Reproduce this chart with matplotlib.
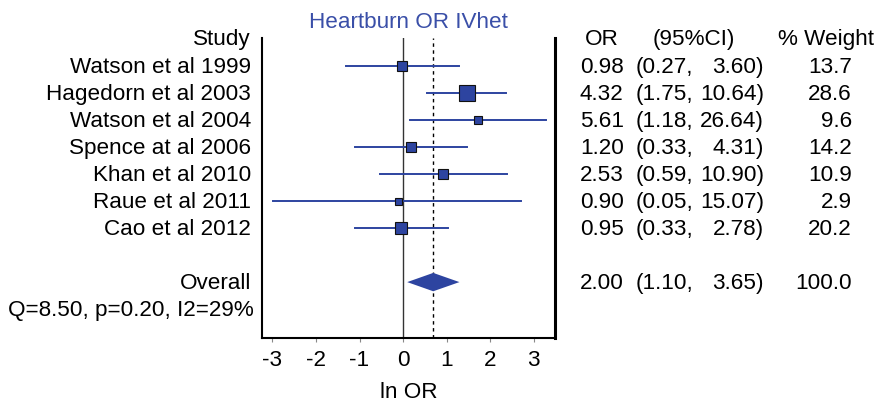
import numpy as np
import matplotlib.pyplot as plt
import matplotlib.transforms as mtransforms

plt.rcParams['font.family'] = ['Liberation Sans', 'DejaVu Sans']

studies = ['Watson et al 1999', 'Hagedorn et al 2003', 'Watson et al 2004',
           'Spence at al 2006', 'Khan et al 2010', 'Raue et al 2011', 'Cao et al 2012']
odds = [0.98, 4.32, 5.61, 1.20, 2.53, 0.90, 0.95]
ci_low = [0.27, 1.75, 1.18, 0.33, 0.59, 0.05, 0.33]
ci_high = [3.60, 10.64, 26.64, 4.31, 10.90, 15.07, 2.78]
weights = [13.7, 28.6, 9.6, 14.2, 10.9, 2.9, 20.2]

pooled_or = 2.00
pooled_low = 1.10
pooled_high = 3.65
pooled_weight = 100.0
q_text = 'Q=8.50, p=0.20, I2=29%'

BLUE = '#2D44A0'
FS = 16.2
W, H = 884, 406

fig = plt.figure(figsize=(W / 100, H / 100), dpi=100)
ax = fig.add_axes([262 / W, 1 - 339 / H, (555 - 262) / W, 300 / H])

rows = np.arange(1, len(studies) + 1)
overall_row = len(studies) + 2

# study CIs and squares
for r, o, lo, hi, w in zip(rows, odds, ci_low, ci_high, weights):
    ax.plot([np.log(lo), np.log(hi)], [r, r], color=BLUE, lw=1.4, zorder=2)
    ms = max(2.85 * np.sqrt(w), 7) * 0.72
    ax.plot(np.log(o), r, marker='s', ms=ms, color=BLUE, mec='#111111', mew=0.8, zorder=3)

# pooled diamond
lp, ll, lh = np.log(pooled_or), np.log(pooled_low), np.log(pooled_high)
ax.fill([ll, lp, lh, lp], [overall_row, overall_row - 0.34, overall_row, overall_row + 0.34],
        color=BLUE, lw=0, zorder=3)

ax.axvline(0, color='#333333', lw=1.0, zorder=1)
ax.axvline(lp, color='black', lw=1.0, ls=(0, (2.5, 2.5)), zorder=1)

ax.set_xlim(-3.24, 3.49)
ax.set_ylim(11.07, -0.037)
ax.set_xticks([-3, -2, -1, 0, 1, 2, 3])
ax.set_xticklabels(['-3', '-2', '-1', '0', '1', '2', '3'], fontsize=FS)
ax.tick_params(axis='x', length=3, color='#888888', pad=5)
ax.set_yticks([])
ax.spines['top'].set_visible(False)
ax.spines['left'].set_linewidth(1.5)
ax.spines['bottom'].set_linewidth(1.5)
ax.spines['right'].set_linewidth(2.2)
ax.set_xlabel('ln OR', fontsize=FS, labelpad=8)
ax.set_title('Heartburn OR IVhet', fontsize=FS, color='#3A4FA8', pad=8)

# text columns, x in figure pixels, y in rows
tr = mtransforms.blended_transform_factory(fig.transFigure, ax.transData)

def put(px, row, s, ha='left'):
    ax.text(px / W, row, s, transform=tr, ha=ha, va='center', fontsize=FS, clip_on=False)

put(251, 0, 'Study', ha='right')
put(585, 0, 'OR')
put(653, 0, '(95%CI)')
put(778, 0, '% Weight')

for r, name, o, lo, hi, w in zip(rows, studies, odds, ci_low, ci_high, weights):
    put(251, r, name, ha='right')
    put(580, r, f'{o:.2f}')
    put(636, r, f'({lo:.2f},')
    put(764, r, f'{hi:.2f})', ha='right')
    put(852, r, f'{w:.1f}', ha='right')

put(251, overall_row, 'Overall', ha='right')
put(580, overall_row, f'{pooled_or:.2f}')
put(636, overall_row, f'({pooled_low:.2f},')
put(764, overall_row, f'{pooled_high:.2f})', ha='right')
put(852, overall_row, f'{pooled_weight:.1f}', ha='right')
put(8, overall_row + 1, q_text)

fig.savefig('out.png', dpi=100)
